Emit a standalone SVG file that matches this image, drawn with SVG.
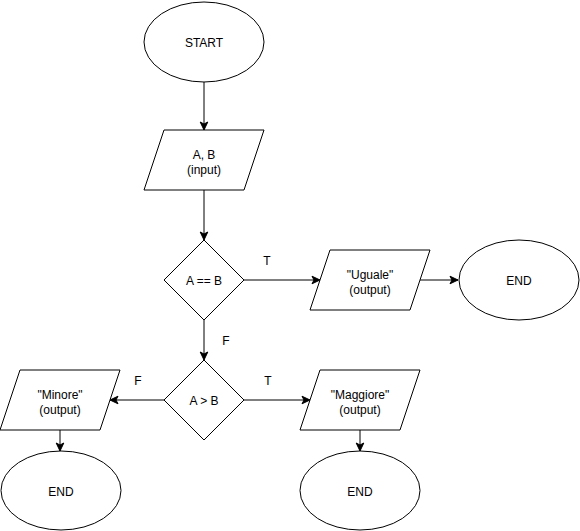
<svg xmlns="http://www.w3.org/2000/svg" width="580" height="531" viewBox="0 0 580 531">
<defs>
<marker id="arr" markerUnits="userSpaceOnUse" markerWidth="10" markerHeight="10" viewBox="0 0 10 10" refX="9" refY="5" orient="auto">
<path d="M1,1.2 L9,5 L1,8.8 L3,5 Z" fill="#000" stroke="#000" stroke-width="1"/>
</marker>
<style>
.s{fill:#fff;stroke:#000;stroke-width:1}
.t{font-family:"Liberation Sans",Arial,sans-serif;font-size:12px;fill:#000;text-anchor:middle;dominant-baseline:central}
.e{fill:none;stroke:#000;stroke-width:1;marker-end:url(#arr)}
</style>
</defs>
<rect width="580" height="531" fill="#fff"/>
<g id="connectors">
<path class="e" d="M204,82 L204,130"/>
<path class="e" d="M204,190 L204,240"/>
<path class="e" d="M244,280 L320,280"/>
<path class="e" d="M420,280 L458,280"/>
<path class="e" d="M204,320 L204,360"/>
<path class="e" d="M164,400 L110,400"/>
<path class="e" d="M244,400 L310,400"/>
<path class="e" d="M60,430 L60,451"/>
<path class="e" d="M360,430 L360,451"/>
<text class="t" x="267" y="261">T</text>
<text class="t" x="226" y="341">F</text>
<text class="t" x="138" y="381">F</text>
<text class="t" x="268" y="381">T</text>
</g>
<g id="start"><ellipse class="s" cx="204" cy="42" rx="60" ry="40"/><text class="t" x="204" y="43">START</text></g>
<g id="input"><path class="s" d="M164,130 L264,130 L244,190 L144,190 Z"/><text class="t" x="204" y="154.5">A, B</text><text class="t" x="204" y="169.5">(input)</text></g>
<g id="cond1"><path class="s" d="M204,240 L244,280 L204,320 L164,280 Z"/><text class="t" x="204" y="281">A == B</text></g>
<g id="uguale"><path class="s" d="M330,250 L430,250 L410,310 L310,310 Z"/><text class="t" x="370" y="274.5">"Uguale"</text><text class="t" x="370" y="289.5">(output)</text></g>
<g id="end1"><ellipse class="s" cx="519" cy="280" rx="60" ry="40"/><text class="t" x="519" y="281">END</text></g>
<g id="cond2"><path class="s" d="M204,360 L244,400 L204,440 L164,400 Z"/><text class="t" x="204" y="401">A &gt; B</text></g>
<g id="minore"><path class="s" d="M20,370 L120,370 L100,430 L0,430 Z"/><text class="t" x="60" y="394.5">"Minore"</text><text class="t" x="60" y="409.5">(output)</text></g>
<g id="maggiore"><path class="s" d="M320,370 L420,370 L400,430 L300,430 Z"/><text class="t" x="360" y="394.5">"Maggiore"</text><text class="t" x="360" y="409.5">(output)</text></g>
<g id="end2"><ellipse class="s" cx="61" cy="490.5" rx="60" ry="39.5"/><text class="t" x="61" y="492">END</text></g>
<g id="end3"><ellipse class="s" cx="360" cy="490.5" rx="60" ry="39.5"/><text class="t" x="360" y="492">END</text></g>
</svg>
